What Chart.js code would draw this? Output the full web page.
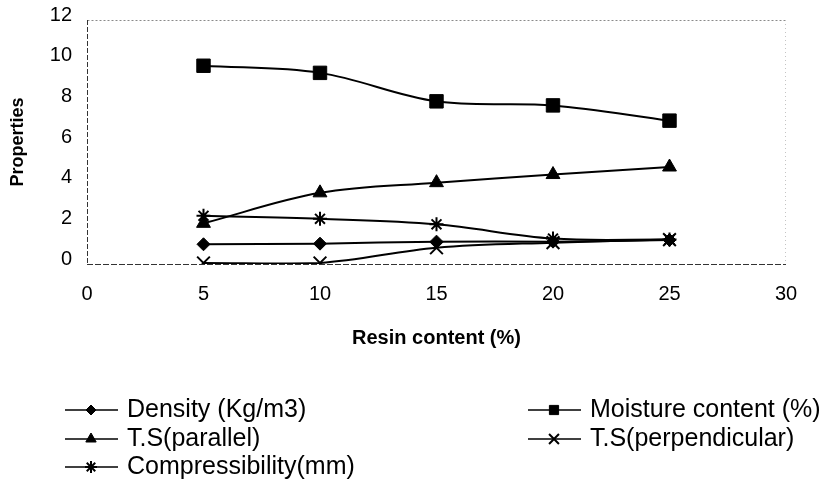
<!doctype html>
<html>

<head>
	<title>Properties vs resin content</title>
	<script src="https://cdn.jsdelivr.net/npm/chart.js@4/dist/chart.umd.min.js"></script>
	<style>
		html, body {
			margin: 0;
			padding: 0;
			background: #fff;
		}
	</style>
</head>

<body>
	<canvas id="canvas" width="832" height="483"></canvas>
	<script>
		// resin content (%)
		const resinContent = [5, 10, 15, 20, 25];

		const density = [0.97, 1.0, 1.1, 1.1, 1.18];
		const moistureContent = [9.75, 9.4, 8.0, 7.8, 7.05];
		const tsParallel = [2.0, 3.5, 4.0, 4.4, 4.77];
		const tsPerpendicular = [0.05, 0.05, 0.8, 1.05, 1.2];
		const compressibility = [2.37, 2.22, 1.95, 1.25, 1.2];

		const seriesLabels = ['Density (Kg/m3)', 'Moisture content (%)', 'T.S(parallel)', 'T.S(perpendicular)', 'Compressibility(mm)'];
		const xTicks = [0, 5, 10, 15, 20, 25, 30];
		const yTicks = [0, 2, 4, 6, 8, 10, 12];

		const toPoints = (values) => values.map((v, i) => ({x: resinContent[i], y: v}));

		const FONT = "'Liberation Sans', Arial, sans-serif";

		// per series marker look
		const markers = [
			{style: 'rectRot', radius: 6.5, legendRadius: 5, width: 1},
			{style: 'rect', radius: 9.5, legendRadius: 6.5, width: 1},
			{style: 'triangle', radius: 8, legendRadius: 6, width: 1},
			{style: 'crossRot', radius: 9, legendRadius: 7, width: 2},
			{style: 'star', radius: 7, legendRadius: 6, width: 2}
		];
		const seriesValues = [density, moistureContent, tsParallel, tsPerpendicular, compressibility];

		const datasets = seriesValues.map((values, i) => ({
			label: seriesLabels[i],
			data: toPoints(values),
			borderColor: '#000',
			backgroundColor: '#000',
			borderWidth: 2,
			tension: 0.35,
			pointStyle: markers[i].style,
			pointRadius: markers[i].radius,
			pointBorderWidth: markers[i].width,
			pointBackgroundColor: '#000',
			pointBorderColor: '#000'
		}));

		// dashed frame round the plot area
		const frame = {
			id: 'frame',
			beforeDatasetsDraw(chart) {
				const {ctx, chartArea: a} = chart;
				ctx.save();
				ctx.lineWidth = 1;
				const seg = (x1, y1, x2, y2, color, dash) => {
					ctx.strokeStyle = color;
					ctx.setLineDash(dash);
					ctx.beginPath();
					ctx.moveTo(x1, y1);
					ctx.lineTo(x2, y2);
					ctx.stroke();
				};
				seg(a.left + 0.5, a.top + 0.5, a.right - 0.5, a.top + 0.5, '#8a8a8a', [2, 2]);
				seg(a.right - 0.5, a.top, a.right - 0.5, a.bottom, '#c4c4c4', [1, 3]);
				seg(a.left + 0.5, a.top, a.left + 0.5, a.bottom, '#333', [5, 2]);
				seg(a.left, a.bottom + 0.5, a.right, a.bottom + 0.5, '#333', [6, 2]);
				ctx.restore();
			}
		};

		// two column legend under the axis title
		const legendSlots = [
			{x: 65, y: 410}, {x: 528, y: 410},
			{x: 65, y: 439}, {x: 528, y: 439},
			{x: 65, y: 467}
		];
		const legendBox = {
			id: 'legendBox',
			afterDraw(chart) {
				const ctx = chart.ctx;
				ctx.save();
				chart.data.datasets.forEach((ds, i) => {
					const s = legendSlots[i];
					ctx.strokeStyle = '#000';
					ctx.fillStyle = '#000';
					ctx.lineWidth = 1.5;
					ctx.setLineDash([]);
					ctx.beginPath();
					ctx.moveTo(s.x, s.y);
					ctx.lineTo(s.x + 53, s.y);
					ctx.stroke();
					if (Chart.helpers && Chart.helpers.drawPoint) {
						ctx.lineWidth = markers[i].width;
						Chart.helpers.drawPoint(ctx, {
							pointStyle: markers[i].style,
							radius: markers[i].legendRadius,
							rotation: 0,
							borderWidth: markers[i].width
						}, s.x + 26, s.y);
					}
					ctx.font = '25px ' + FONT;
					ctx.textBaseline = 'middle';
					ctx.textAlign = 'left';
					ctx.fillText(ds.label, s.x + 62, s.y);
				});
				ctx.restore();
			}
		};

		window.onload = function() {
			const ctx = document.getElementById('canvas').getContext('2d');
			window.myChart = new Chart(ctx, {
				type: 'line',
				data: {datasets: datasets},
				plugins: [frame, legendBox],
				options: {
					responsive: false,
					animation: false,
					events: [],
					layout: {
						padding: {left: 0, right: 46, top: 20, bottom: 133}
					},
					plugins: {
						legend: {display: false},
						tooltip: {enabled: false}
					},
					scales: {
						x: {
							type: 'linear',
							min: 0,
							max: 30,
							afterBuildTicks(scale) {
								scale.ticks = xTicks.map(v => ({value: v}));
							},
							afterFit(scale) {
								scale.height = 86;
								scale.paddingLeft = 0;
								scale.paddingRight = 0;
							},
							grid: {display: false, drawTicks: false},
							border: {display: false},
							ticks: {
								padding: 18,
								color: '#000',
								font: {family: FONT, size: 20}
							},
							title: {
								display: true,
								text: 'Resin content (%)',
								color: '#000',
								padding: {top: 0, bottom: 0},
								font: {family: FONT, size: 20, weight: 'bold'}
							}
						},
						y: {
							min: 0,
							max: 12,
							afterBuildTicks(scale) {
								scale.ticks = yTicks.map(v => ({value: v}));
							},
							afterFit(scale) {
								scale.width = 87;
								scale.paddingTop = 0;
								scale.paddingBottom = 0;
							},
							grid: {display: false, drawTicks: false},
							border: {display: false},
							ticks: {
								padding: 15,
								labelOffset: -5,
								color: '#000',
								font: {family: FONT, size: 20}
							},
							title: {
								display: true,
								text: 'Properties',
								color: '#000',
								padding: {top: 7, bottom: 0},
								font: {family: FONT, size: 18, weight: 'bold'}
							}
						}
					}
				}
			});
		};
	</script>
</body>

</html>
